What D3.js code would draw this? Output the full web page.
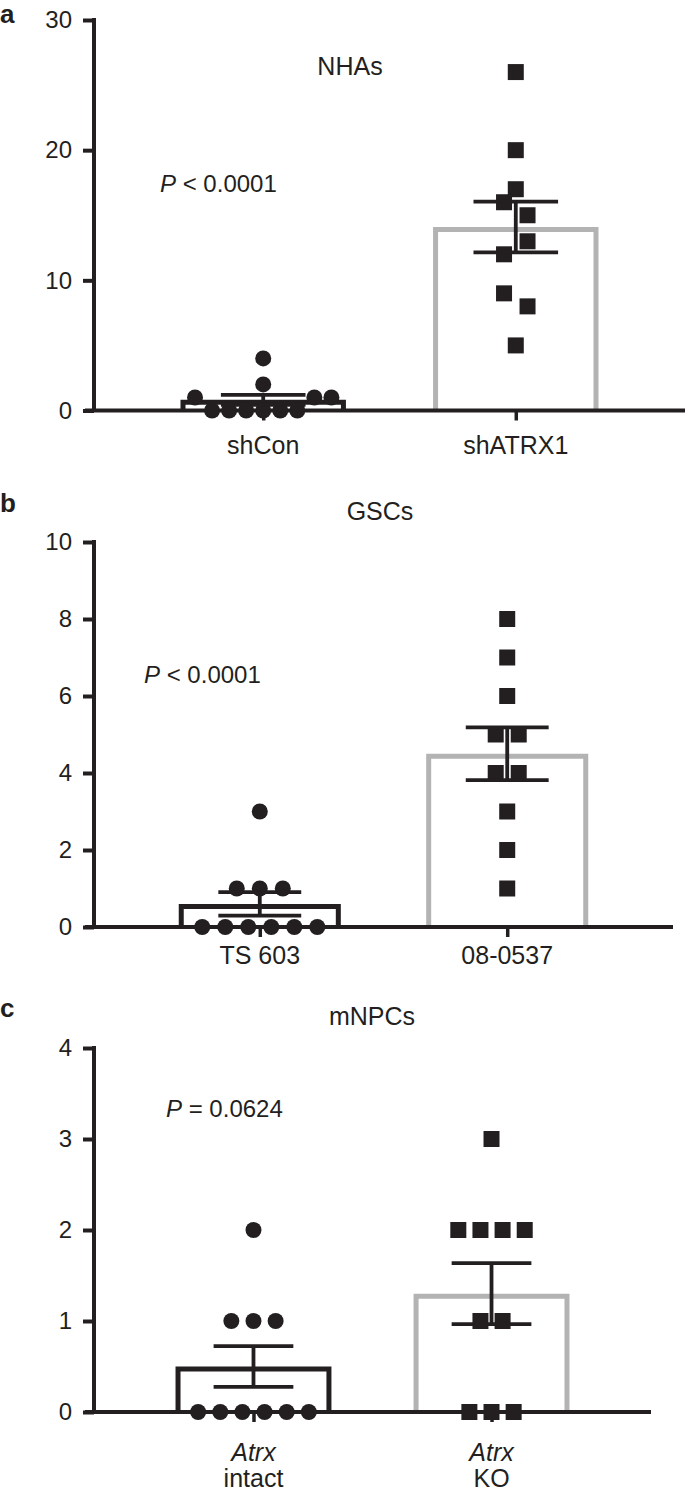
<!DOCTYPE html>
<html>
<head>
<meta charset="utf-8">
<script src="https://cdn.jsdelivr.net/npm/d3@7"></script>
<style>
  html, body { margin: 0; padding: 0; background: #fff; }
  svg { display: block; }
  text { font-family: "Liberation Sans", Arial, Helvetica, sans-serif; fill: #231f20; }
</style>
</head>
<body>
<svg id="chart" width="685" height="1494"></svg>
<script>
// ---------------- DATA ----------------
// Panel a: NHAs
const catsA = ["shCon", "shATRX1"];
const shConVals = [1, 0, 0, 0, 0, 0, 0, 1, 1, 2, 4];
const shATRX1Vals = [5, 9, 8, 12, 13, 16, 15, 17, 20, 26];
const ticksA = [0, 10, 20, 30];
const titleA = "NHAs";
const pA = ["P", " < 0.0001"];

// Panel b: GSCs
const catsB = ["TS 603", "08-0537"];
const ts603Vals = [0, 0, 0, 0, 0, 0, 1, 1, 1, 3];
const gsc0537Vals = [1, 2, 3, 4, 4, 5, 5, 6, 7, 8];
const ticksB = [0, 2, 4, 6, 8, 10];
const titleB = "GSCs";
const pB = ["P", " < 0.0001"];

// Panel c: mNPCs
const catsC = ["Atrx intact", "Atrx KO"];
const catLinesC = [["Atrx", "intact"], ["Atrx", "KO"]];
const intactVals = [0, 0, 0, 0, 0, 0, 1, 1, 1, 2];
const koVals = [0, 0, 0, 1, 1, 2, 2, 2, 2, 3];
const ticksC = [0, 1, 2, 3, 4];
const titleC = "mNPCs";
const pC = ["P", " = 0.0624"];

// ---------------- LAYOUT ----------------
const svg = d3.select("#chart");
const INK = "#231f20";
const GRAY = "#b3b3b3";
const axisX = 94;

const panels = [
  { label: "a", labelY: 23, cats: catsA, groups: [shConVals, shATRX1Vals], shapes: ["circle", "square"],
    ticks: ticksA, yRange: [410.5, 20], xEnd: 685, title: titleA, titleX: 350, titleY: 75,
    p: pA, pX: 160, pY: 192, catLabelY: 454, catLines: null },
  { label: "b", labelY: 512, cats: catsB, groups: [ts603Vals, gsc0537Vals], shapes: ["circle", "square"],
    ticks: ticksB, yRange: [927, 542], xEnd: 673, title: titleB, titleX: 380, titleY: 520,
    p: pB, pX: 144, pY: 683, catLabelY: 964, catLines: null },
  { label: "c", labelY: 1017, cats: catsC, groups: [intactVals, koVals], shapes: ["circle", "square"],
    ticks: ticksC, yRange: [1412, 1048], xEnd: 651, title: titleC, titleX: 372, titleY: 1025,
    p: pC, pX: 166, pY: 1117, catLabelY: 1461, catLines: catLinesC }
];

const markerSize = 16;

panels.forEach(P => {
  const g = svg.append("g");
  const yMax = P.ticks[P.ticks.length - 1];
  const y = d3.scaleLinear().domain([0, yMax]).range(P.yRange);
  const x = d3.scalePoint().domain(P.cats).range([axisX, P.xEnd]).padding(0.67);
  const step = x.step();
  const barW = step * 0.655;
  const capW = step * 0.335;
  const spacing = step * 0.093;
  const maxRowW = step * 0.54;
  const barSW = 5;

  // panel label
  g.append("text").attr("x", 0).attr("y", P.labelY)
    .style("font-size", "26px").style("font-weight", "bold").text(P.label);

  // title
  g.append("text").attr("x", P.titleX).attr("y", P.titleY)
    .attr("text-anchor", "middle").style("font-size", "25px").text(P.title);

  // p-value
  const pt = g.append("text").attr("x", P.pX).attr("y", P.pY).style("font-size", "24px");
  pt.append("tspan").style("font-style", "italic").text(P.p[0]);
  pt.append("tspan").attr("xml:space", "preserve").text(P.p[1]);

  // bars
  P.groups.forEach((vals, i) => {
    const cat = P.cats[i];
    const cx = x(cat);
    const m = d3.mean(vals);
    const left = cx - barW / 2 + barSW / 2;
    const right = cx + barW / 2 - barSW / 2;
    const top = y(m) + barSW / 2;
    const bottom = y(0);
    g.append("path")
      .attr("d", `M${left},${bottom} V${top} H${right} V${bottom}`)
      .attr("fill", "none")
      .attr("stroke", i === 0 ? INK : GRAY)
      .attr("stroke-width", barSW);
  });

  // y axis
  const yAxis = d3.axisLeft(y).tickValues(P.ticks).tickSize(11).tickPadding(11).tickFormat(d3.format("d"));
  const ya = g.append("g").attr("transform", `translate(${axisX},0)`).call(yAxis);
  ya.select(".domain").remove();
  ya.selectAll(".tick line").attr("stroke", INK).attr("stroke-width", 4);
  ya.selectAll(".tick text").style("font-size", "24px").attr("fill", INK)
    .style("font-family", "'Liberation Sans', Arial, sans-serif");
  g.append("line").attr("x1", axisX).attr("x2", axisX)
    .attr("y1", y(yMax) - 2).attr("y2", y(0))
    .attr("stroke", INK).attr("stroke-width", 4);

  // x axis
  g.append("line").attr("x1", axisX - 9).attr("x2", P.xEnd)
    .attr("y1", y(0)).attr("y2", y(0))
    .attr("stroke", INK).attr("stroke-width", 4);
  const xAxis = d3.axisBottom(x).tickSize(10).tickFormat("");
  const xa = g.append("g").attr("transform", `translate(0,${y(0)})`).call(xAxis);
  xa.select(".domain").remove();
  xa.selectAll(".tick line").attr("stroke", INK).attr("stroke-width", 3.5);

  // category labels
  P.cats.forEach((cat, i) => {
    if (P.catLines) {
      const lines = P.catLines[i];
      g.append("text").attr("x", x(cat)).attr("y", P.catLabelY).attr("text-anchor", "middle")
        .style("font-size", "25px").style("font-style", "italic").text(lines[0]);
      g.append("text").attr("x", x(cat)).attr("y", P.catLabelY + 26).attr("text-anchor", "middle")
        .style("font-size", "25px").text(lines[1]);
    } else {
      g.append("text").attr("x", x(cat)).attr("y", P.catLabelY).attr("text-anchor", "middle")
        .style("font-size", "25px").text(cat);
    }
  });

  // points (row-based scatter like Prism)
  P.groups.forEach((vals, i) => {
    const cx = x(P.cats[i]);
    const order = d3.range(vals.length).sort((a, b) => d3.ascending(vals[a], vals[b]) || a - b);
    const rows = [];
    let cur = null;
    order.forEach(idx => {
      const py = y(vals[idx]);
      if (cur && (cur.startPy - py) < markerSize) {
        cur.members.push(idx);
      } else {
        cur = { startPy: py, members: [idx] };
        rows.push(cur);
      }
    });
    const pts = [];
    rows.forEach(r => {
      const mem = r.members.slice().sort((a, b) => a - b);
      const n = mem.length;
      const s = n > 1 ? Math.min(spacing, maxRowW / (n - 1)) : 0;
      mem.forEach((idx, k) => pts.push({ v: vals[idx], dx: (k - (n - 1) / 2) * s }));
    });
    if (P.shapes[i] === "circle") {
      g.selectAll(null).data(pts).enter().append("circle")
        .attr("cx", d => cx + d.dx).attr("cy", d => y(d.v))
        .attr("r", markerSize / 2).attr("fill", INK);
    } else {
      g.selectAll(null).data(pts).enter().append("rect")
        .attr("x", d => cx + d.dx - markerSize / 2).attr("y", d => y(d.v) - markerSize / 2)
        .attr("width", markerSize).attr("height", markerSize).attr("fill", INK);
    }
  });

  // error bars (mean ± SEM)
  P.groups.forEach((vals, i) => {
    const cx = x(P.cats[i]);
    const m = d3.mean(vals);
    const sem = d3.deviation(vals) / Math.sqrt(vals.length);
    const lo = y(m - sem), hi = y(m + sem);
    const eb = g.append("g").attr("stroke", INK).attr("stroke-width", 3.8);
    eb.append("line").attr("x1", cx).attr("x2", cx).attr("y1", lo).attr("y2", hi);
    eb.append("line").attr("x1", cx - capW / 2).attr("x2", cx + capW / 2).attr("y1", hi).attr("y2", hi);
    eb.append("line").attr("x1", cx - capW / 2).attr("x2", cx + capW / 2).attr("y1", lo).attr("y2", lo);
  });
});
</script>
</body>
</html>
